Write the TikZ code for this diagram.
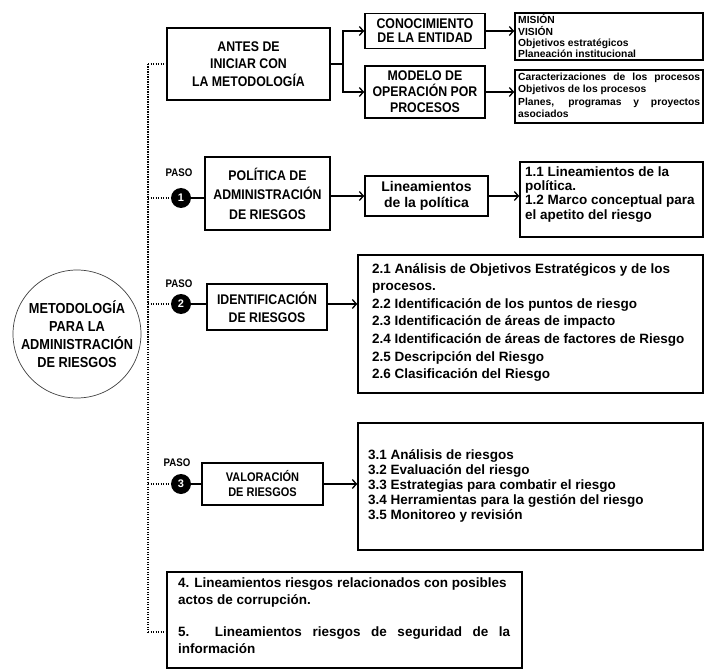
\documentclass[tikz,border=0pt]{standalone}
\usepackage{fontspec}
\setmainfont{Liberation Sans}
\newfontfamily\capsf[FakeStretch=0.88]{Liberation Sans}
\usetikzlibrary{arrows.meta}
\tikzset{
  box/.style={draw, line width=1.6pt, inner sep=0pt},
  capsbox/.style={box, align=center},
  txt/.style={anchor=base west, inner sep=0pt, font=\bfseries\fontsize{13.5}{16}\selectfont},
  smalltxt/.style={anchor=base west, inner sep=0pt, font=\bfseries\fontsize{10.3}{12}\selectfont},
  arr/.style={line width=1.3pt, -{Straight Barb[length=4pt,width=9pt]}},
  spine/.style={line width=2pt, dash pattern=on 1.2pt off 1.3pt},
  link/.style={line width=1.6pt},
  num/.style={circle, fill=black, minimum size=20pt, inner sep=0pt, text=white, font=\bfseries\fontsize{11}{12}\selectfont},
  paso/.style={inner sep=0pt, font=\capsf\bfseries\fontsize{11}{12}\selectfont},
}
\begin{document}
\begin{tikzpicture}[x=1pt,y=-1pt]
\path[use as bounding box, fill=white] (0,0) rectangle (704,671);

% main circle
\node[circle, draw=black!75, line width=0.7pt, minimum size=128pt, inner sep=0pt] (M) at (77,334) {};
\node[inner sep=0pt, align=center, font=\capsf\bfseries\fontsize{14.5}{18}\selectfont] (Mt) at (M.center) {METODOLOGÍA\\PARA LA\\ADMINISTRACIÓN\\DE RIESGOS};

% spine
\coordinate (sT) at (148,64);
\coordinate (sB) at (148,632);
\draw[spine] (sT) -- (sB);

% before starting
\node[capsbox, minimum width=163pt, minimum height=72pt, font=\capsf\bfseries\fontsize{14}{17.5}\selectfont] (A) at (248.5,64) {ANTES DE\\INICIAR CON\\LA METODOLOGÍA};
\draw[spine] (sT) -- (A.west);
\coordinate (fk) at (343,64);
\draw[link, line width=1.3pt] (A.east) -- (fk);
\node[capsbox, minimum width=120pt, minimum height=35pt, font=\capsf\bfseries\fontsize{14}{14}\selectfont] (B) at (425,31) {CONOCIMIENTO\\DE LA ENTIDAD};
\node[capsbox, minimum width=120pt, minimum height=52pt, font=\capsf\bfseries\fontsize{14}{16}\selectfont] (D) at (425,92) {MODELO DE\\OPERACIÓN POR\\PROCESOS};
\draw[arr] (fk) |- (B.west);
\draw[arr] (fk) |- (D.west);

\node[box, minimum width=188pt, minimum height=47pt] (C) at (609,36.5) {};
\draw[arr] (B.east) -- (B.east -| C.west);
\node[smalltxt] (c1) at (518,24) {MISIÓN};
\node[smalltxt] (c2) at (518,35.5) {VISIÓN};
\node[smalltxt] (c3) at (518,47) {Objetivos estratégicos};
\node[smalltxt] (c4) at (518,57.5) {Planeación institucional};

\node[box, minimum width=188pt, minimum height=53pt] (E) at (609,96.5) {};
\draw[arr] (D.east) -- (D.east -| E.west);
\node[smalltxt] (e1) at (518,81) {\makebox[182pt][s]{Caracterizaciones de los procesos}};
\node[smalltxt] (e2) at (518,93) {Objetivos de los procesos};
\node[smalltxt] (e3) at (518,106) {\makebox[182pt][s]{Planes, programas y proyectos}};
\node[smalltxt] (e4) at (518,118) {asociados};

% step 1
\node[paso] (p1) at (179,173) {PASO};
\node[num] (n1) at (181,198) {1};
\node[capsbox, minimum width=125pt, minimum height=73pt, font=\capsf\bfseries\fontsize{14}{19.5}\selectfont] (P1) at (267.5,193.5) {POLÍTICA DE\\ADMINISTRACIÓN\\DE RIESGOS};
\draw[spine] (n1.west -| sT) -- (n1.west);
\draw[link] (n1.east) -- (n1.east -| P1.west);
\node[box, minimum width=123pt, minimum height=40pt, align=center, font=\bfseries\fontsize{14}{15.5}\selectfont] (L1) at (426.5,196) {Lineamientos\\de la política};
\draw[arr] (L1.west -| P1.east) -- (L1.west);
\node[box, minimum width=183pt, minimum height=75pt] (D1) at (611.5,199.5) {};
\draw[arr] (L1.east) -- (L1.east -| D1.west);
\node[txt] (d11) at (525,177) {1.1 Lineamientos de la};
\node[txt] (d12) at (525,191) {política.};
\node[txt] (d13) at (525,205) {1.2 Marco conceptual para};
\node[txt] (d14) at (525,219) {el apetito del riesgo};

% step 2
\node[paso] (p2) at (179,284) {PASO};
\node[num] (n2) at (181,304) {2};
\node[capsbox, minimum width=120pt, minimum height=46pt, font=\capsf\bfseries\fontsize{14}{18}\selectfont] (P2) at (267,307) {IDENTIFICACIÓN\\DE RIESGOS};
\draw[spine] (n2.west -| sT) -- (n2.west);
\draw[link] (n2.east) -- (n2.east -| P2.west);
\node[box, minimum width=345pt, minimum height=138pt] (D2) at (530.5,324) {};
\draw[arr] (n2 -| P2.east) -- (n2 -| D2.west);
\node[txt] (d21) at (372,273) {2.1 Análisis de Objetivos Estratégicos y de los};
\node[txt] (d22) at (372,290.6) {procesos.};
\node[txt] (d23) at (372,308.2) {2.2 Identificación de los puntos de riesgo};
\node[txt] (d24) at (372,325.8) {2.3 Identificación de áreas de impacto};
\node[txt] (d25) at (372,343.4) {2.4 Identificación de áreas de factores de Riesgo};
\node[txt] (d26) at (372,361) {2.5 Descripción del Riesgo};
\node[txt] (d27) at (372,378.6) {2.6 Clasificación del Riesgo};

% step 3
\node[paso] (p3) at (177,463) {PASO};
\node[num] (n3) at (181,484) {3};
\node[capsbox, minimum width=121pt, minimum height=42pt, font=\capsf\bfseries\fontsize{12.5}{15}\selectfont] (P3) at (262.5,484) {VALORACIÓN\\DE RIESGOS};
\draw[spine] (n3.west -| sT) -- (n3.west);
\draw[link] (n3.east) -- (n3.east -| P3.west);
\node[box, minimum width=345pt, minimum height=127pt] (D3) at (530.5,486.5) {};
\draw[arr] (P3.east) -- (P3.east -| D3.west);
\node[txt] (d31) at (368,459) {3.1 Análisis de riesgos};
\node[txt] (d32) at (368,474) {3.2 Evaluación del riesgo};
\node[txt] (d33) at (368,489) {3.3 Estrategias para combatir el riesgo};
\node[txt] (d34) at (368,504) {3.4 Herramientas para la gestión del riesgo};
\node[txt] (d35) at (368,519) {3.5 Monitoreo y revisión};

% bottom box
\node[box, minimum width=355pt, minimum height=96pt] (F) at (344.5,620) {};
\draw[spine] (sB) -- (sB -| F.west);
\node[txt] (f1) at (178,587) {4. Lineamientos riesgos relacionados con posibles};
\node[txt] (f2) at (178,604) {actos de corrupción.};
\node[txt] (f3) at (178,636) {\makebox[332pt][s]{5. Lineamientos riesgos de seguridad de la}};
\node[txt] (f4) at (178,653) {información};
\end{tikzpicture}
\end{document}
